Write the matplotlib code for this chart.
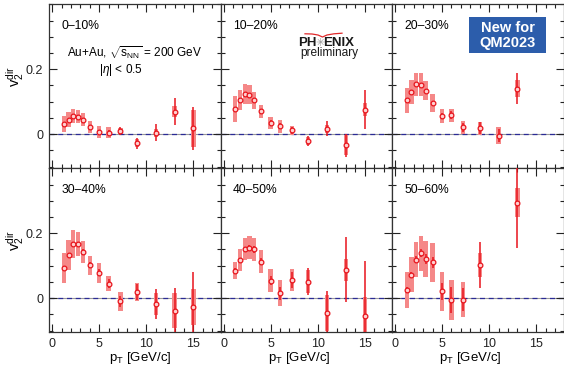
import numpy as np
import matplotlib
matplotlib.use("Agg")
import matplotlib.pyplot as plt
from matplotlib.ticker import MultipleLocator, FixedLocator, FixedFormatter
from matplotlib.patches import Rectangle
from matplotlib.lines import Line2D

plt.rcParams['font.family'] = ['Liberation Sans', 'DejaVu Sans']
plt.rcParams['mathtext.fontset'] = 'custom'
plt.rcParams['mathtext.rm'] = 'Liberation Sans'
plt.rcParams['mathtext.it'] = 'Liberation Sans:italic'
plt.rcParams['mathtext.bf'] = 'Liberation Sans:bold'

# ---------------- data ----------------
pt = [1.25, 1.75, 2.25, 2.75, 3.25, 4.0, 5.0, 6.0, 7.25, 9.0, 11.0, 13.0, 15.0]
nan = np.nan

centralities = ["0\u201310%", "10\u201320%", "20\u201330%", "30\u201340%", "40\u201350%", "50\u201360%"]

v2_0_10 = [0.031, 0.045, 0.057, 0.054, 0.045, 0.023, 0.007, 0.005, 0.010, -0.028, 0.004, 0.069, 0.018]
stat_0_10 = [0.004, 0.004, 0.004, 0.005, 0.005, 0.005, 0.007, 0.009, 0.013, 0.017, 0.026, 0.041, 0.066]
sys_0_10 = [0.025, 0.022, 0.022, 0.021, 0.021, 0.019, 0.019, 0.018, 0.010, 0.012, 0.012, 0.017, 0.056]

v2_10_20 = [0.078, 0.106, 0.124, 0.122, 0.104, 0.070, 0.035, 0.025, 0.012, -0.021, 0.017, -0.034, 0.076]
stat_10_20 = [0.004, 0.004, 0.005, 0.005, 0.006, 0.006, 0.008, 0.009, 0.011, 0.014, 0.024, 0.035, 0.060]
sys_10_20 = [0.039, 0.031, 0.030, 0.028, 0.026, 0.021, 0.019, 0.020, 0.013, 0.012, 0.012, 0.030, 0.021]

v2_20_30 = [0.104, 0.130, 0.154, 0.153, 0.134, 0.096, 0.057, 0.059, 0.021, 0.019, -0.005, 0.140, nan]
stat_20_30 = [0.005, 0.005, 0.005, 0.006, 0.006, 0.007, 0.009, 0.011, 0.013, 0.018, 0.020, 0.048, nan]
sys_20_30 = [0.039, 0.036, 0.035, 0.036, 0.030, 0.028, 0.021, 0.020, 0.021, 0.020, 0.026, 0.026, nan]

v2_30_40 = [0.093, 0.133, 0.167, 0.167, 0.142, 0.101, 0.078, 0.045, -0.010, 0.018, -0.018, -0.038, -0.028]
stat_30_40 = [0.006, 0.006, 0.007, 0.007, 0.008, 0.009, 0.011, 0.014, 0.018, 0.025, 0.045, 0.068, 0.110]
sys_30_40 = [0.045, 0.046, 0.044, 0.036, 0.035, 0.030, 0.030, 0.022, 0.030, 0.028, 0.033, 0.053, 0.055]

v2_40_50 = [0.085, 0.118, 0.151, 0.156, 0.150, 0.112, 0.054, 0.016, 0.057, 0.051, -0.045, 0.088, -0.055]
stat_40_50 = [0.007, 0.007, 0.008, 0.009, 0.010, 0.011, 0.014, 0.020, 0.025, 0.041, 0.067, 0.100, 0.170]
sys_40_50 = [0.027, 0.035, 0.034, 0.034, 0.034, 0.035, 0.035, 0.040, 0.034, 0.035, 0.055, 0.034, 0.060]

v2_50_60 = [0.026, 0.072, 0.119, 0.139, 0.121, 0.111, 0.021, -0.006, -0.005, 0.101, nan, 0.294, nan]
stat_50_60 = [0.010, 0.010, 0.012, 0.013, 0.015, 0.017, 0.025, 0.041, 0.035, 0.071, nan, 0.140, nan]
sys_50_60 = [0.055, 0.054, 0.054, 0.054, 0.055, 0.060, 0.060, 0.061, 0.054, 0.037, nan, 0.045, nan]

values = [v2_0_10, v2_10_20, v2_20_30, v2_30_40, v2_40_50, v2_50_60]
stats = [stat_0_10, stat_10_20, stat_20_30, stat_30_40, stat_40_50, stat_50_60]
syss = [sys_0_10, sys_10_20, sys_20_30, sys_30_40, sys_40_50, sys_50_60]

xticklabels = ["0", "5", "10", "15"]
yticklabels = ["0", "0.2"]

# ---------------- layout ----------------
W, H = 564, 372
fig = plt.figure(figsize=(W / 100, H / 100), dpi=100)


def fx(x):
    return x / W


def fy(y):
    return 1 - y / H


L0, T0, PW, PH = 49.3, 4.3, 171.4, 164.0
red = '#e8141c'
boxc = '#f58888'

axes = []
for i in range(6):
    r, c = divmod(i, 3)
    left = L0 + c * PW
    top = T0 + r * PH
    ax = fig.add_axes([fx(left), fy(top + PH), PW / W, PH / H])
    axes.append(ax)
    ax.set_xlim(-0.3, 17.9)
    ax.set_ylim(-0.105, 0.4)
    ax.xaxis.set_major_locator(FixedLocator([0, 5, 10, 15]))
    ax.xaxis.set_minor_locator(MultipleLocator(1))
    ax.yaxis.set_major_locator(FixedLocator([0, 0.2]))
    ax.yaxis.set_minor_locator(MultipleLocator(0.05))
    ax.tick_params(which='both', direction='in', top=True, right=True,
                   width=0.8, colors='#222222', labelsize=9)
    ax.tick_params(which='major', length=5.5)
    ax.tick_params(which='minor', length=3)
    ax.tick_params(axis='x', pad=4)
    ax.tick_params(axis='y', pad=4.5)
    for s in ax.spines.values():
        s.set_linewidth(0.9)
        s.set_color('#333333')
    if c == 0:
        ax.yaxis.set_major_formatter(FixedFormatter(yticklabels))
    else:
        ax.set_yticklabels([])
    if r == 1:
        ax.xaxis.set_major_formatter(FixedFormatter(xticklabels))
    else:
        ax.set_xticklabels([])

    # zero line
    ax.axhline(0, color='0.6', lw=0.8, zorder=1)
    ax.axhline(0, color='#2b2b96', lw=0.9, ls=(0, (4, 3)), zorder=1.5)

    x = np.array(pt)
    v = np.array(values[i])
    st = np.array(stats[i])
    sy = np.array(syss[i])
    m = ~np.isnan(v)
    ax.bar(x[m], 2 * sy[m], bottom=v[m] - sy[m], width=0.46, color=boxc,
           lw=0, zorder=2)
    ax.errorbar(x[m], v[m], yerr=st[m], fmt='none', ecolor=red,
                elinewidth=1.1, capsize=0, zorder=3)
    ax.plot(x[m], v[m], 'o', ms=3.4, mfc='#ffd0d0', mec=red, mew=0.9,
            zorder=4)

    ax.text(fx(left + 12.4), fy(top + 21.7), centralities[i],
            transform=fig.transFigure, fontsize=8.7, ha='left', va='center')

# y labels
for yc in (77, 241):
    fig.text(fx(15.5), fy(yc), r'$\mathrm{v}_2^{\mathrm{dir}}$', rotation=90,
             ha='center', va='center', fontsize=10.5)

# x labels
for xc in (140.5, 299, 470.5):
    fig.text(fx(xc), fy(358), r'$\mathrm{p_T}$ [GeV/c]', ha='center',
             va='center', fontsize=9.5)

# annotations in first panel
fig.text(fx(134.5), fy(52.5), r'Au+Au, $\sqrt{\mathrm{s_{NN}}}$ = 200 GeV',
         ha='center', va='center', fontsize=8.5)
fig.text(fx(121), fy(70), r'|$\eta$| < 0.5', ha='center', va='center',
         fontsize=8.5)

# PHENIX preliminary logo
fig.text(fx(316.7), fy(42.5), 'PH', ha='right', va='center', fontsize=9.5,
         fontweight='bold', color='#1a1a1a')
fig.text(fx(320), fy(42.5), '\u2733', ha='center', va='center', fontsize=8,
         family='DejaVu Sans', color='#999999')
fig.text(fx(323.3), fy(42.5), 'ENIX', ha='left', va='center', fontsize=9.5,
         fontweight='bold', color='#1a1a1a')
fig.text(fx(329), fy(53), 'preliminary', ha='center', va='center',
         fontsize=8.6, color='#1a1a1a')
sx = np.array([305, 312, 318, 322.5, 327, 334, 342])
sy_ = np.array([33.8, 34.0, 35.0, 37.0, 35.0, 33.8, 33.2])
fig.add_artist(Line2D(fx(sx), fy(sy_), transform=fig.transFigure,
                      color='#e0282a', lw=0.9))

# New for QM2023 box
fig.add_artist(Rectangle((fx(469.3), fy(53.3)), (546 - 469.3) / W,
                         (53.3 - 16.7) / H, transform=fig.transFigure,
                         facecolor='#2c5dab', edgecolor='none', zorder=5))
fig.text(fx(507.6), fy(27.5), 'New for', ha='center', va='center',
         fontsize=10.5, fontweight='bold', color='white', zorder=6)
fig.text(fx(507.6), fy(42.5), 'QM2023', ha='center', va='center',
         fontsize=10.5, fontweight='bold', color='white', zorder=6)

fig.savefig('out.png', dpi=100)
